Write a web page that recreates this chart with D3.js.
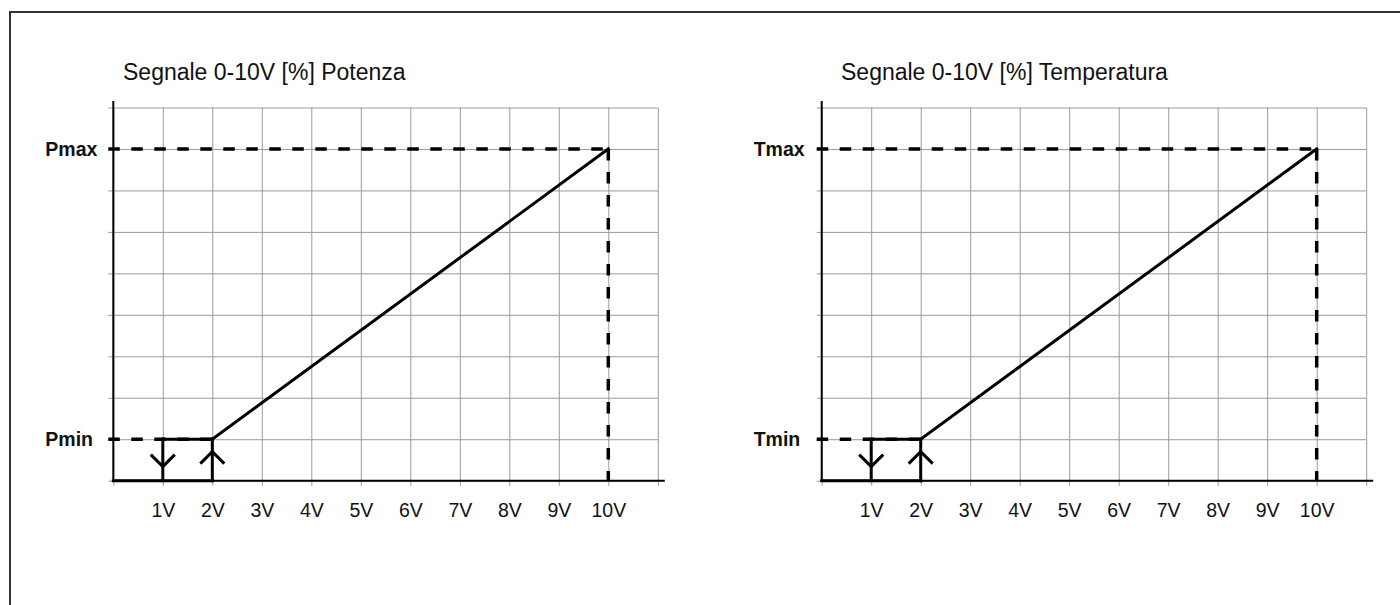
<!DOCTYPE html>
<html><head><meta charset="utf-8">
<script src="https://cdn.jsdelivr.net/npm/d3@7"></script>
<style>body{margin:0;background:#fff}svg{display:block;font-family:"Liberation Sans",Arial,sans-serif}</style>
</head><body><svg id="c" width="1400" height="605"></svg>
<script>
// ---- data ----
const xTickValues = [1,2,3,4,5,6,7,8,9,10];
const xTickLabels = ["1V","2V","3V","4V","5V","6V","7V","8V","9V","10V"];
const xGridValues = [0,1,2,3,4,5,6,7,8,9,10,11];
const yGridValues = [0,1,2,3,4,5,6,7,8,9];
const panelTitles = ["Segnale 0-10V [%] Potenza","Segnale 0-10V [%] Temperatura"];
const minLabels = ["Pmin","Tmin"];
const maxLabels = ["Pmax","Tmax"];
const minLevel = 1;
const maxLevel = 8;
// solid curve segments [volt, level]
const solidSegments = [
  [[0,0],[2,0]],
  [[1,1],[1,0]],
  [[2,0],[2,1]],
  [[1,1],[2,1]],
  [[2,1],[10,8]]
];
// dashed reference lines
const dashedSegments = [
  [[0,8],[10,8]],
  [[10,8],[10,0]],
  [[0,1],[2,1]]
];
// hysteresis arrows: volt position, direction, apex level
const arrows = [
  {v:1, dir:"down", tip:0.34},
  {v:2, dir:"up", tip:0.70}
];

// ---- layout ----
const panels = [{left:113.3, titleX:123}, {left:821.7, titleX:841}];
const step = 49.5, plotTop = 107.5, plotBottom = 480.7, tick = 5;
const FONT = "'Liberation Sans',Arial,sans-serif";

const svg = d3.select("#c");
svg.append("rect").attr("x",10).attr("y",12).attr("width",1420).attr("height",700)
  .attr("fill","none").attr("stroke","#333").attr("stroke-width",2);

panels.forEach((p,i)=>{
  const x = d3.scaleLinear().domain([0,11]).range([p.left, p.left + 11*step]);
  const y = d3.scaleLinear().domain([0,9]).range([plotBottom, plotTop]);
  const g = svg.append("g");

  // vertical grid + x labels
  const xa = g.append("g").attr("transform",`translate(0,${plotBottom+tick})`)
    .call(d3.axisBottom(x).tickValues(xGridValues)
      .tickSizeInner(-(plotBottom+tick-plotTop)).tickSizeOuter(0).tickPadding(17.5)
      .tickFormat(d => { const k = xTickValues.indexOf(d); return k<0 ? "" : xTickLabels[k]; }));
  xa.select(".domain").remove();
  xa.selectAll("line").attr("stroke","#9a9a9a").attr("stroke-width",1);
  xa.selectAll("text").attr("fill","#111").style("font-size","19.5px").style("font-family",FONT);

  // horizontal grid + y labels (left aligned)
  const ya = g.append("g").attr("transform",`translate(${p.left-tick},0)`)
    .call(d3.axisLeft(y).tickValues(yGridValues)
      .tickSizeInner(-(11*step+tick)).tickSizeOuter(0).tickPadding(11)
      .tickFormat(d => d===minLevel ? minLabels[i] : d===maxLevel ? maxLabels[i] : ""));
  ya.select(".domain").remove();
  ya.selectAll("line").attr("stroke","#9a9a9a").attr("stroke-width",1);
  ya.selectAll("text").attr("fill","#111").attr("text-anchor","start").attr("x",-(68-tick))
    .style("font-size","19.5px").style("font-weight","bold").style("font-family",FONT);

  // axis lines
  g.append("line").attr("x1",x(0)).attr("x2",x(0)).attr("y1",y(9)-6.5).attr("y2",y(0))
    .attr("stroke","#000").attr("stroke-width",2);
  g.append("line").attr("x1",x(0)).attr("x2",x(11)+7).attr("y1",y(0)).attr("y2",y(0))
    .attr("stroke","#000").attr("stroke-width",2);

  // title
  g.append("text").attr("x",p.titleX).attr("y",80).text(panelTitles[i])
    .attr("fill","#111").style("font-size","23px").style("font-family",FONT);

  const line = d3.line().x(d=>x(d[0]) - (d[0]===0 ? tick : 0)).y(d=>y(d[1]));
  // dashed
  g.selectAll("path.dash").data(dashedSegments).join("path").attr("class","dash")
    .attr("d", line).attr("fill","none").attr("stroke","#000").attr("stroke-width",3.5)
    .attr("stroke-dasharray","11.5,11.5");
  // solid
  const sline = d3.line().x(d=>x(d[0])).y(d=>y(d[1]));
  g.selectAll("path.solid").data(solidSegments).join("path").attr("class","solid")
    .attr("d", sline).attr("fill","none").attr("stroke","#000").attr("stroke-width",3)
    .attr("stroke-linecap","square");
  // arrows
  g.selectAll("path.arr").data(arrows).join("path").attr("class","arr")
    .attr("d", a => {
      const cx = x(a.v), cy = y(a.tip), s = a.dir==="down" ? -12 : 12;
      return `M${cx-12},${cy+s}L${cx},${cy}L${cx+12},${cy+s}`;
    }).attr("fill","none").attr("stroke","#000").attr("stroke-width",3);
});
</script></body></html>
